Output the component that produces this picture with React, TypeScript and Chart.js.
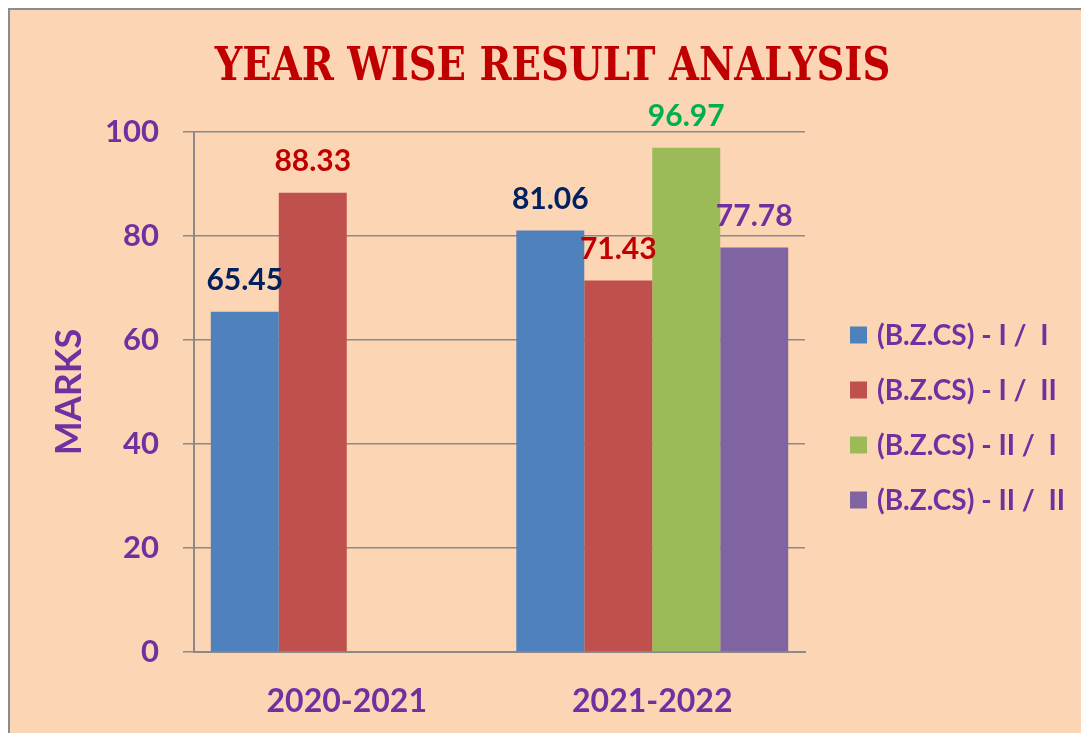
import React, { useEffect, useRef } from "react";
import { Chart, registerables } from "chart.js";

Chart.register(...registerables);

const categories = ["2020-2021", "2021-2022"];
const seriesNames = [
  "(B.Z.CS) - I /  I",
  "(B.Z.CS) - I /  II",
  "(B.Z.CS) - II /  I",
  "(B.Z.CS) - II /  II",
];
const seriesI_I = [65.45, 81.06];
const seriesI_II = [88.33, 71.43];
const seriesII_I = [null, 96.97];
const seriesII_II = [null, 77.78];
const yTicks = [0, 20, 40, 60, 80, 100];

const titleText = "YEAR WISE RESULT ANALYSIS";
const yTitle = "MARKS";

const barColors = ["#4F81BD", "#C0504D", "#9BBB59", "#8064A2"];
const labelColors = ["#002060", "#C00000", "#00B050", "#7030A0"];
const PURPLE = "#7030A0";
const GRID = "#8A8A8A";
const FONT = "Lato, 'Open Sans', sans-serif";

const valueLabels = {
  id: "valueLabels",
  afterDatasetsDraw(chart: any) {
    const ctx = chart.ctx;
    ctx.save();
    ctx.font = `bold 30px ${FONT}`;
    ctx.textAlign = "center";
    ctx.textBaseline = "middle";
    chart.data.datasets.forEach((ds: any, i: number) => {
      const meta = chart.getDatasetMeta(i);
      meta.data.forEach((bar: any, j: number) => {
        const v = ds.data[j];
        if (v == null) return;
        ctx.fillStyle = labelColors[i];
        ctx.fillText(Number(v).toFixed(2), bar.x, bar.y - 31);
      });
    });
    ctx.restore();
  },
};

const titleDraw = {
  id: "titleDraw",
  afterDraw(chart: any) {
    const ctx = chart.ctx;
    ctx.save();
    ctx.fillStyle = "#C00000";
    ctx.font = "bold 46px 'DejaVu Serif', serif";
    ctx.textAlign = "center";
    ctx.textBaseline = "alphabetic";
    ctx.translate(chart.width / 2 + 3, 70);
    ctx.scale(0.84, 1);
    ctx.fillText(titleText, 0, 0);
    ctx.restore();
  },
};

const legendDraw = {
  id: "legendDraw",
  afterDraw(chart: any) {
    const ctx = chart.ctx;
    const area = chart.chartArea;
    const n = chart.data.datasets.length;
    const spacing = 55;
    const mid = (area.top + area.bottom) / 2 + 25.5;
    const boxX = area.right + 45;
    const box = 17;
    ctx.save();
    ctx.font = `bold 28px ${FONT}`;
    ctx.textAlign = "left";
    ctx.textBaseline = "middle";
    chart.data.datasets.forEach((ds: any, i: number) => {
      const cy = mid + (i - (n - 1) / 2) * spacing;
      ctx.fillStyle = ds.backgroundColor;
      ctx.fillRect(boxX, cy - box / 2, box, box);
      ctx.fillStyle = PURPLE;
      ctx.fillText(ds.label, boxX + box + 10, cy + 1);
    });
    ctx.restore();
  },
};

export default function App() {
  const ref = useRef<HTMLCanvasElement | null>(null);

  useEffect(() => {
    document.documentElement.style.overflow = "hidden";
    document.body.style.overflow = "hidden";
    const series = [seriesI_I, seriesI_II, seriesII_I, seriesII_II];
    const chart = new Chart(ref.current as HTMLCanvasElement, {
      type: "bar",
      data: {
        labels: categories,
        datasets: series.map((d, i) => ({
          label: seriesNames[i],
          data: d,
          backgroundColor: barColors[i],
          borderWidth: 0,
          categoryPercentage: 0.89,
          barPercentage: 1,
        })),
      },
      options: {
        responsive: false,
        animation: false,
        layout: { padding: { left: 0, right: 284, top: 122, bottom: 0 } },
        plugins: {
          tooltip: { enabled: false },
          title: { display: false },
          legend: { display: false },
        },
        scales: {
          x: {
            grid: { display: false, drawTicks: false },
            border: { display: true, color: GRID, width: 2 },
            ticks: {
              color: PURPLE,
              font: { family: FONT, size: 32, weight: "bold" },
              padding: 30,
            },
            afterFit: (s: any) => {
              s.height = 81;
            },
          },
          y: {
            min: 0,
            max: 100,
            afterBuildTicks: (s: any) => {
              s.ticks = yTicks.map((v) => ({ value: v }));
            },
            afterFit: (s: any) => {
              s.width = 184;
            },
            grid: { color: GRID, lineWidth: 1.5, tickLength: 11, drawTicks: true },
            border: { display: true, color: GRID, width: 2 },
            ticks: {
              color: PURPLE,
              font: { family: FONT, size: 31, weight: "bold" },
              padding: 24,
            },
            title: {
              display: true,
              text: yTitle,
              color: PURPLE,
              font: { family: FONT, size: 36, weight: "bold" },
              padding: { top: 38, bottom: 0 },
            },
          },
        },
      },
      plugins: [valueLabels, titleDraw, legendDraw],
    } as any);
    return () => chart.destroy();
  }, []);

  return (
    <div
      style={{
        width: 1079,
        height: 723,
        background: "#FCD5B4",
        borderTop: "2px solid #8C8C8C",
        borderLeft: "2px solid #8C8C8C",
        overflow: "hidden",
      }}
    >
      <canvas ref={ref} width={1079} height={723} style={{ display: "block" }} />
    </div>
  );
}
